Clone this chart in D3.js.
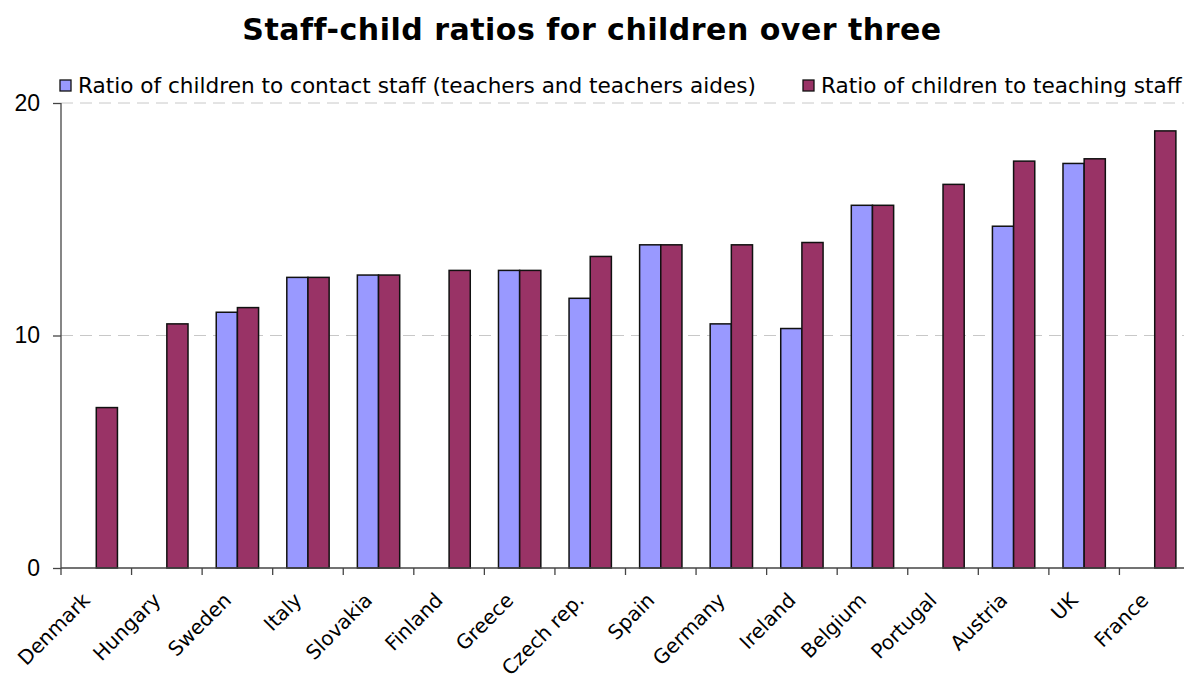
<!DOCTYPE html>
<html>
<head>
<meta charset="utf-8">
<title>Staff-child ratios</title>
<script src="https://d3js.org/d3.v7.min.js"></script>
<style>
  body { margin: 0; background: #fff; }
  svg { display: block; }
</style>
</head>
<body>
<div id="chart"></div>
<script>
// data
const countries = ["Denmark", "Hungary", "Sweden", "Italy", "Slovakia", "Finland", "Greece",
  "Czech rep.", "Spain", "Germany", "Ireland", "Belgium", "Portugal", "Austria", "UK", "France"];
const contactStaff = [null, null, 11.0, 12.5, 12.6, null, 12.8, 11.6, 13.9, 10.5, 10.3, 15.6, null, 14.7, 17.4, null];
const teachingStaff = [6.9, 10.5, 11.2, 12.5, 12.6, 12.8, 12.8, 13.4, 13.9, 13.9, 14.0, 15.6, 16.5, 17.5, 17.6, 18.8];
const seriesNames = ["Ratio of children to contact staff (teachers and teachers aides)",
  "Ratio of children to teaching staff"];
const seriesColors = ["#9999FF", "#993366"];
const yTicks = [0, 10, 20];

const width = 1184, height = 677;
let margin = {top: 103, left: 61, bottom: 109};
let plotRight = 1190;  // last category runs past the picture edge

let svg = d3.select("#chart").append("svg")
    .attr("width", width)
    .attr("height", height);

let x = d3.scaleBand()
    .domain(countries)
    .range([margin.left, plotRight])
    .paddingInner(0.4)
    .paddingOuter(0.2);

let xSub = d3.scaleBand()
    .domain([0, 1])
    .range([0, x.bandwidth()]);

let y = d3.scaleLinear()
    .domain([0, 20])
    .range([height - margin.bottom, margin.top]);

// dashed gridlines
svg.append("g")
  .selectAll("line")
  .data(yTicks.filter(d => d > 0))
  .enter().append("line")
    .attr("x1", margin.left)
    .attr("x2", width)
    .attr("y1", d => y(d))
    .attr("y2", d => y(d))
    .attr("stroke", "#c8c8c8")
    .attr("stroke-width", 1)
    .attr("stroke-dasharray", "12,7");

// bars
let rows = countries.map((c, i) => ({country: c, values: [contactStaff[i], teachingStaff[i]]}));

svg.append("g")
  .selectAll("g")
  .data(rows)
  .enter().append("g")
    .attr("transform", d => "translate(" + x(d.country) + ",0)")
  .selectAll("rect")
  .data(d => d.values.map((v, k) => ({k: k, v: v})).filter(e => e.v !== null))
  .enter().append("rect")
    .attr("x", d => xSub(d.k))
    .attr("y", d => y(d.v))
    .attr("width", xSub.bandwidth())
    .attr("height", d => y(0) - y(d.v))
    .attr("fill", d => seriesColors[d.k])
    .attr("stroke", "#111")
    .attr("stroke-width", 1.5);

// y axis
let yAxis = d3.axisLeft(y)
    .tickValues(yTicks)
    .tickSize(8)
    .tickPadding(13);

let yg = svg.append("g")
    .attr("transform", "translate(" + margin.left + ",0)")
    .call(yAxis);
yg.selectAll("path, line").attr("stroke", "#444").attr("stroke-width", 1.3);
yg.select(".domain").attr("d", "M0," + y(20) + "V" + y(0));
yg.selectAll("text")
    .attr("font-family", "Liberation Sans, Arial, sans-serif")
    .attr("font-size", "23px")
    .attr("fill", "#000");

// x axis line and boundary ticks
let xg = svg.append("g");
xg.append("line")
    .attr("x1", margin.left).attr("x2", width)
    .attr("y1", y(0)).attr("y2", y(0))
    .attr("stroke", "#444").attr("stroke-width", 1.3);

let offset = (x.step() - x.bandwidth()) / 2;
xg.selectAll(".tk")
  .data(countries)
  .enter().append("line")
    .attr("class", "tk")
    .attr("x1", d => x(d) - offset)
    .attr("x2", d => x(d) - offset)
    .attr("y1", y(0))
    .attr("y2", y(0) + 7)
    .attr("stroke", "#444").attr("stroke-width", 1.3);

xg.selectAll(".lbl")
  .data(countries)
  .enter().append("text")
    .attr("class", "lbl")
    .attr("transform", d => "translate(" + (x(d) + x.bandwidth() / 2 - 5) + "," + (y(0) + 33.5) + ") rotate(-45)")
    .attr("text-anchor", "end")
    .attr("font-family", "DejaVu Sans, Verdana, sans-serif")
    .attr("font-size", "20px")
    .attr("fill", "#000")
    .text(d => d);

// title
svg.append("text")
    .attr("x", 592)
    .attr("y", 40)
    .attr("text-anchor", "middle")
    .attr("font-family", "DejaVu Sans, Verdana, sans-serif")
    .attr("font-weight", "bold")
    .attr("font-size", "30px")
    .attr("letter-spacing", "0.5px")
    .text("Staff-child ratios for children over three");

// legend
let legendX = [60, 803];
let leg = svg.append("g")
  .selectAll("g")
  .data(seriesNames)
  .enter().append("g")
    .attr("transform", (d, i) => "translate(" + legendX[i] + ",80)");

leg.append("rect")
    .attr("width", 11)
    .attr("height", 11)
    .attr("fill", (d, i) => seriesColors[i])
    .attr("stroke", "#111")
    .attr("stroke-width", 1.3);

leg.append("text")
    .attr("x", 18)
    .attr("y", 13)
    .attr("font-family", "DejaVu Sans, Verdana, sans-serif")
    .attr("font-size", "21.6px")
    .attr("fill", "#000")
    .text(d => d);
</script>
</body>
</html>
